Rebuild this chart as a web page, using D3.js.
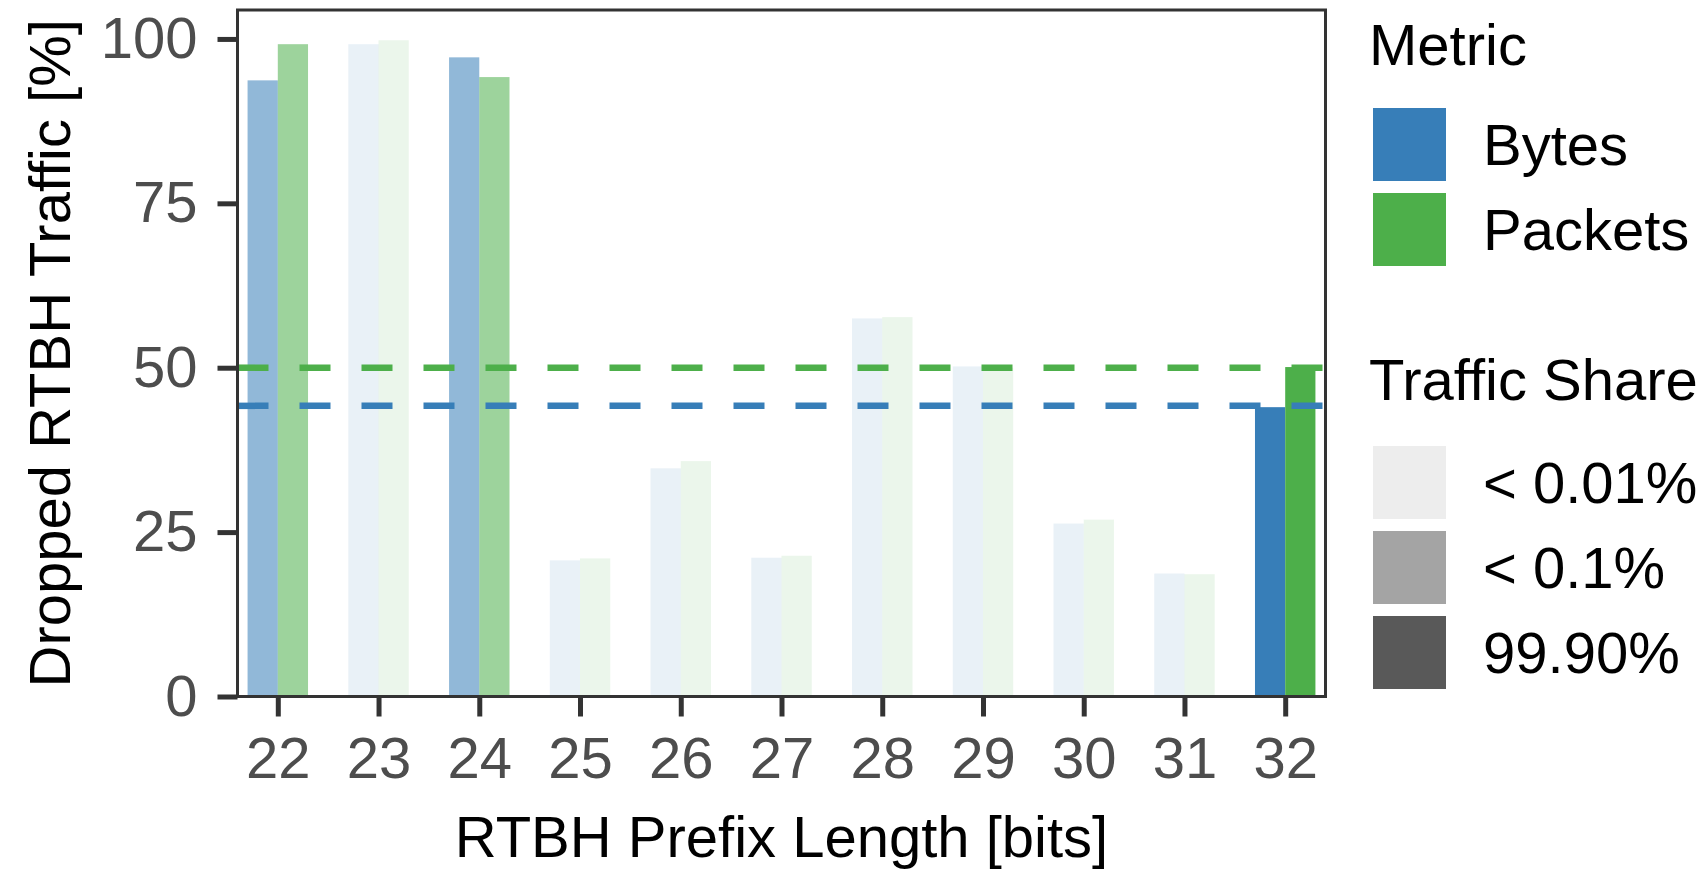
<!DOCTYPE html>
<html>
<head>
<meta charset="utf-8">
<script src="https://cdn.jsdelivr.net/npm/d3@7"></script>
<style>
  body { margin: 0; background: #fff; }
  svg { display: block; font-family: "Liberation Sans", Arial, Helvetica, sans-serif; }
</style>
</head>
<body>
<svg id="chart" width="1706" height="869"></svg>
<script>
'use strict';

// data
var prefixLengths = ['22', '23', '24', '25', '26', '27', '28', '29', '30', '31', '32'];
var bytesDropped = [93.7, 99.2, 97.2, 20.7, 34.7, 21.1, 57.5, 50.2, 26.3, 18.7, 44.0];
var packetsDropped = [99.2, 99.8, 94.2, 21.0, 35.8, 21.4, 57.7, 50.0, 26.9, 18.6, 50.1];
var trafficShare = ['< 0.1%', '< 0.01%', '< 0.1%', '< 0.01%', '< 0.01%', '< 0.01%',
                    '< 0.01%', '< 0.01%', '< 0.01%', '< 0.01%', '99.90%'];
var overallDropped = [44.2, 50.0]; // dashed reference lines, Bytes / Packets

var metrics = ['Bytes', 'Packets'];
var metricColors = ['#377eb8', '#4daf4a'];
var shareLevels = ['< 0.01%', '< 0.1%', '99.90%'];
var shareAlpha = [0.11, 0.55, 1];
var yTicks = [0, 25, 50, 75, 100];

// layout
var margins = { top: 10, left: 237.5 };
var panelW = 1088, panelH = 686.5;
var fontSize = 58;

var svg = d3.select('#chart');
var g = svg.append('g').attr('transform', 'translate(' + margins.left + ',' + margins.top + ')');

var x = d3.scalePoint().domain(prefixLengths).range([0, panelW]).padding(0.4);
var step = x.step();
var xSub = d3.scaleBand().domain(metrics).range([-0.3 * step, 0.3 * step]);
var y = d3.scaleLinear().domain([0, 104.4]).range([panelH, 0]);
var color = d3.scaleOrdinal().domain(metrics).range(metricColors);
var alpha = d3.scaleOrdinal().domain(shareLevels).range(shareAlpha);

// rows for bars
var rows = [];
prefixLengths.forEach(function (p, i) {
  rows.push({ prefix: p, metric: 'Bytes', value: bytesDropped[i], share: trafficShare[i] });
  rows.push({ prefix: p, metric: 'Packets', value: packetsDropped[i], share: trafficShare[i] });
});

// bars
g.append('g').attr('class', 'bars').selectAll('rect')
  .data(rows).enter().append('rect')
  .attr('x', function (d) { return x(d.prefix) + xSub(d.metric); })
  .attr('width', xSub.bandwidth())
  .attr('y', function (d) { return y(d.value); })
  .attr('height', function (d) { return y(0) - y(d.value); })
  .attr('fill', function (d) { return color(d.metric); })
  .attr('fill-opacity', function (d) { return alpha(d.share); });

// dashed overall lines
g.append('g').attr('class', 'hlines').selectAll('line')
  .data(metrics).enter().append('line')
  .attr('x1', 0).attr('x2', panelW)
  .attr('y1', function (d, i) { return y(overallDropped[i]); })
  .attr('y2', function (d, i) { return y(overallDropped[i]); })
  .attr('stroke', function (d) { return color(d); })
  .attr('stroke-width', 6.5)
  .attr('stroke-dasharray', '31,31');

// axes
var yAxis = g.append('g').attr('class', 'y-axis')
  .call(d3.axisLeft(y).tickValues(yTicks).tickSize(20).tickPadding(20).tickSizeOuter(0));
var xAxis = g.append('g').attr('class', 'x-axis')
  .attr('transform', 'translate(0,' + panelH + ')')
  .call(d3.axisBottom(x).tickSize(20).tickPadding(20).tickSizeOuter(0));

[yAxis, xAxis].forEach(function (a) {
  a.select('.domain').remove();
  a.selectAll('.tick line').attr('stroke', '#333').attr('stroke-width', 5);
  a.selectAll('.tick text').attr('fill', '#4d4d4d').style('font-size', fontSize + 'px');
});

// panel border
g.append('rect')
  .attr('x', 0).attr('y', 0).attr('width', panelW).attr('height', panelH)
  .attr('fill', 'none').attr('stroke', '#333').attr('stroke-width', 3);

// axis titles
svg.append('text')
  .attr('x', margins.left + panelW / 2).attr('y', 857)
  .attr('text-anchor', 'middle').style('font-size', fontSize + 'px')
  .text('RTBH Prefix Length [bits]');
svg.append('text')
  .attr('transform', 'translate(70,' + (margins.top + panelH / 2) + ') rotate(-90)')
  .attr('text-anchor', 'middle').style('font-size', fontSize + 'px')
  .text('Dropped RTBH Traffic [%]');

// legends
var legend = svg.append('g').attr('class', 'legend').attr('transform', 'translate(1369,0)');
var keySize = 73, keyStep = 85, keyX = 4, labelX = 114;

legend.append('text').attr('x', 0).attr('y', 65).style('font-size', fontSize + 'px').text('Metric');
var metricKeys = legend.selectAll('g.metric-key').data(metrics).enter().append('g')
  .attr('class', 'metric-key')
  .attr('transform', function (d, i) { return 'translate(0,' + (108 + i * keyStep) + ')'; });
metricKeys.append('rect')
  .attr('x', keyX).attr('width', keySize).attr('height', keySize)
  .attr('fill', function (d) { return color(d); });
metricKeys.append('text')
  .attr('x', labelX).attr('y', keySize / 2).attr('dy', '0.35em')
  .style('font-size', fontSize + 'px').text(function (d) { return d; });

legend.append('text').attr('x', 0).attr('y', 400).style('font-size', fontSize + 'px').text('Traffic Share');
var shareKeys = legend.selectAll('g.share-key').data(shareLevels).enter().append('g')
  .attr('class', 'share-key')
  .attr('transform', function (d, i) { return 'translate(0,' + (446 + i * keyStep) + ')'; });
shareKeys.append('rect')
  .attr('x', keyX).attr('width', keySize).attr('height', keySize)
  .attr('fill', '#595959').attr('fill-opacity', function (d) { return alpha(d); });
shareKeys.append('text')
  .attr('x', labelX).attr('y', keySize / 2).attr('dy', '0.35em')
  .style('font-size', fontSize + 'px').text(function (d) { return d; });
</script>
</body>
</html>
